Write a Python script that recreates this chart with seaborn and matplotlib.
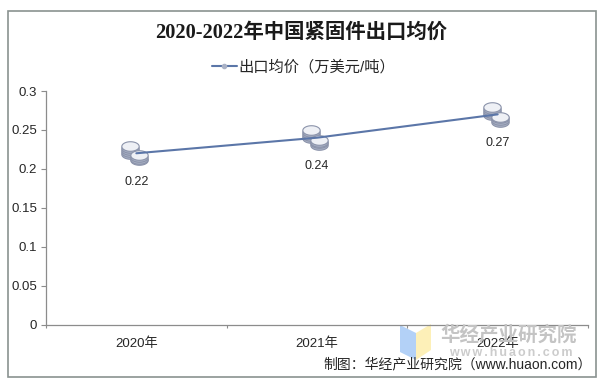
import matplotlib
matplotlib.use("Agg")
import matplotlib.pyplot as plt
import matplotlib.transforms as mtrans
from matplotlib.patches import Polygon, Rectangle
from matplotlib.path import Path
import numpy as np
import pandas as pd
import seaborn as sns

years = ["2020年", "2021年", "2022年"]
prices = [0.22, 0.24, 0.27]
series_name = "出口均价（万美元/吨）"
title = "2020-2022年中国紧固件出口均价"
y_ticks = [0, 0.05, 0.1, 0.15, 0.2, 0.25, 0.3]
y_labels = ["0", "0.05", "0.1", "0.15", "0.2", "0.25", "0.3"]
credit = "制图：华经产业研究院（www.huaon.com）"
wm_name = "华经产业研究院"
wm_url = "www.huaon.com"

W, H = 600, 383
sns.set_theme(style="white")
SANS = ["Liberation Sans", "Noto Sans CJK SC"]
plt.rcParams["font.family"] = SANS

fig = plt.figure(figsize=(W / 100, H / 100), dpi=100, facecolor="white")
ax = fig.add_axes([46 / W, 1 - 324.5 / H, 542 / W, 233.5 / H])
ax.set_zorder(3)
ax.patch.set_alpha(0)

fig.add_artist(Rectangle((7.5 / W, 1 - 377 / H), 588.5 / W, 366 / H, transform=fig.transFigure,
                         fill=False, ec="#8a9290", lw=1.2))

# watermark behind the chart
fig.add_artist(Polygon([(400 / W, 1 - 325 / H), (416 / W, 1 - 333 / H), (416 / W, 1 - 360 / H), (400 / W, 1 - 352 / H)],
                       transform=fig.transFigure, fc="#b3d1f7", ec="none"))
fig.add_artist(Polygon([(416 / W, 1 - 333 / H), (431 / W, 1 - 324 / H), (431 / W, 1 - 350 / H), (416 / W, 1 - 360 / H)],
                       transform=fig.transFigure, fc="#fdf0b8", ec="none"))
fig.text(509 / W, 1 - 335 / H, wm_name, color="#c4c4c4", fontsize=14, fontweight="bold", ha="center", va="center")
fig.text(511 / W, 1 - 353 / H, "\u200a\u200a".join(wm_url), color="#cccccc", fontsize=9, fontweight="bold",
         ha="center", va="center", fontfamily=["Liberation Sans", "DejaVu Sans"])

df = pd.DataFrame({"year": years, "price": prices})
sns.lineplot(data=df, x="year", y="price", ax=ax, color="#5b76a8", lw=1.5, label=series_name,
             sort=False, zorder=5, legend=False)

# coin stack marker built from flattened circles, positioned from the data
t = np.linspace(0, 2 * np.pi, 50)
coin = Path(np.column_stack([np.cos(t), 0.55 * np.sin(t)]), closed=True)
coins = [(-4.2, -0.5), (-4.2, 1), (-4.2, 2.5), (-4.2, 4), (-4.2, 5.5),
         (1.6, -5.2), (1.6, -4), (1.6, -2.8), (1.6, -1.6)]
for i, (dx, dy) in enumerate(coins):
    tr = ax.transData + mtrans.ScaledTranslation(dx / 72, dy / 72, fig.dpi_scale_trans)
    ax.plot(range(len(years)), prices, ls="none", marker=coin, ms=12.5,
            mfc="#eef0f5" if i in (4, 8) else "#aab2c6", mec="#8b93aa", mew=0.8,
            transform=tr, zorder=4 + i * 0.01, clip_on=False)
ax.lines[0].set_zorder(5)

for i, (yr, v) in enumerate(zip(years, prices)):
    ax.annotate(f"{v:.2f}", (i, v), xytext=(0, -20.5), textcoords="offset points",
                ha="center", va="center", fontsize=9, color="#262626", zorder=6)

ax.set_xlim(-0.5, 2.5)
ax.set_ylim(0, 0.3)
ax.set_yticks(y_ticks, y_labels)
ax.set_xticks(range(len(years)), years)
ax.set_xticks([-0.5, 0.5, 1.5, 2.5], minor=True)
ax.set_xlabel("")
ax.set_ylabel("")
for s in ("top", "right"):
    ax.spines[s].set_visible(False)
for s in ("left", "bottom"):
    ax.spines[s].set_color("#8c8c8c")
    ax.spines[s].set_linewidth(0.9)
ax.tick_params(axis="y", left=True, length=3.5, width=0.8, color="#8c8c8c", labelsize=9.5, labelcolor="#262626", pad=3)
ax.tick_params(axis="x", which="major", bottom=False, labelsize=9.5, labelcolor="#262626", pad=3)
ax.tick_params(axis="x", which="minor", bottom=True, length=2.5, width=0.8, color="#8c8c8c", direction="out")

fig.text(301 / W, 1 - 33 / H, title, fontsize=14.7, fontweight="bold", color="#1a1a1a", ha="center", va="center",
         fontfamily=["Liberation Serif", "Noto Sans CJK SC"])
handle = plt.Line2D([], [], color="#5b76a8", lw=1.5, marker="o", ms=3, mfc="#aab2c6", mec="#aab2c6")
fig.legend([handle], [series_name], loc="center", bbox_to_anchor=(303.5 / W, 1 - 67 / H), frameon=False,
           handlelength=1.65, handletextpad=0.1,
           prop={"family": SANS, "size": 11}, labelcolor="#262626")
fig.text(592 / W, 1 - 364 / H, credit, fontsize=10, color="#262626", ha="right", va="center", zorder=10)

fig.savefig("out.png", dpi=100)
